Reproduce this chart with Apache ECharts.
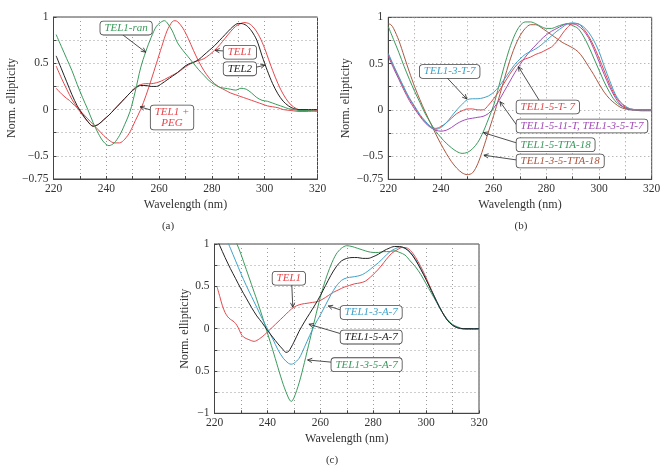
<!DOCTYPE html>
<html><head><meta charset="utf-8">
<script src="https://cdn.jsdelivr.net/npm/echarts@6/dist/echarts.min.js"></script>
<style>html,body{margin:0;padding:0;background:#fff}#c{width:664px;height:467px}</style>
</head><body><div id="c"></div>
<script>
// ---------- DATA (wavelength nm, normalized ellipticity) ----------
// Panel (a)
const aTEL1ran = [[221,0.81],[223,0.68],[225,0.55],[227,0.42],[229,0.27],[231,0.13],[233,0.0],[235,-0.14],[237,-0.26],[239,-0.35],[241,-0.39],[243,-0.36],[245,-0.28],[247,-0.16],[249,-0.02],[251,0.2],[253,0.45],[255,0.63],[257,0.78],[259,0.9],[261,0.95],[262,0.96],[263,0.94],[265,0.85],[267,0.72],[269,0.64],[271,0.57],[273,0.5],[275,0.43],[277,0.37],[279,0.31],[281,0.27],[283,0.24],[285,0.23],[287,0.22],[289,0.21],[291,0.23],[293,0.22],[295,0.18],[297,0.13],[299,0.1],[301,0.09],[303,0.07],[305,0.05],[307,0.03],[309,0.01],[311,0.0],[313,-0.01],[316,-0.01],[320,-0.02]];
const aTEL1PEG = [[221,0.23],[223,0.17],[225,0.12],[226,0.1],[227,0.07],[229,0.02],[231,-0.04],[233,-0.1],[235,-0.16],[237,-0.22],[239,-0.28],[241,-0.33],[243,-0.36],[245,-0.36],[247,-0.32],[249,-0.24],[251,-0.12],[253,0.0],[255,0.15],[257,0.32],[259,0.5],[261,0.68],[263,0.85],[265,0.95],[266,0.96],[267,0.95],[269,0.88],[271,0.77],[273,0.64],[275,0.52],[277,0.42],[279,0.34],[281,0.28],[283,0.24],[285,0.21],[287,0.18],[289,0.16],[291,0.14],[293,0.12],[295,0.1],[297,0.08],[299,0.06],[301,0.04],[303,0.03],[305,0.02],[307,0.0],[310,-0.01],[313,-0.02],[316,-0.02],[320,-0.01]];
const aTEL2 = [[221,0.58],[223,0.44],[225,0.3],[227,0.16],[229,0.04],[231,-0.05],[233,-0.13],[235,-0.18],[237,-0.16],[239,-0.11],[241,-0.06],[243,0.0],[245,0.06],[247,0.12],[249,0.18],[251,0.23],[253,0.26],[255,0.26],[257,0.25],[259,0.25],[261,0.28],[263,0.32],[265,0.36],[267,0.4],[269,0.45],[271,0.49],[273,0.51],[275,0.54],[277,0.59],[279,0.64],[281,0.69],[283,0.75],[285,0.81],[287,0.87],[289,0.92],[290,0.93],[291,0.93],[293,0.91],[295,0.85],[297,0.75],[299,0.58],[301,0.42],[303,0.28],[305,0.17],[307,0.09],[309,0.04],[311,0.01],[313,0.0],[316,0.0],[320,0.0]];
const aTEL1 = [[221,0.47],[223,0.34],[225,0.22],[227,0.11],[229,0.02],[231,-0.06],[233,-0.13],[235,-0.18],[237,-0.16],[239,-0.11],[241,-0.06],[243,0.0],[245,0.06],[247,0.12],[249,0.18],[251,0.24],[253,0.27],[255,0.28],[257,0.28],[259,0.29],[261,0.31],[263,0.34],[265,0.37],[267,0.4],[269,0.44],[271,0.48],[273,0.51],[275,0.53],[277,0.55],[279,0.59],[281,0.64],[283,0.7],[285,0.77],[287,0.84],[289,0.9],[291,0.93],[292,0.94],[294,0.93],[296,0.88],[298,0.79],[300,0.66],[302,0.5],[304,0.35],[306,0.22],[308,0.12],[310,0.05],[312,0.01],[314,-0.01],[317,-0.01],[320,0.0]];
// Panel (b)
const b3T7 = [[220,0.61],[222,0.48],[224,0.36],[226,0.24],[228,0.13],[230,0.04],[232,-0.05],[234,-0.12],[236,-0.18],[238,-0.21],[240,-0.19],[242,-0.14],[244,-0.07],[246,0.0],[248,0.06],[250,0.11],[252,0.12],[254,0.12],[256,0.13],[258,0.15],[260,0.19],[262,0.25],[264,0.33],[266,0.41],[268,0.49],[270,0.55],[272,0.6],[274,0.63],[276,0.66],[278,0.7],[280,0.75],[282,0.8],[284,0.85],[286,0.89],[288,0.93],[290,0.94],[292,0.93],[294,0.9],[296,0.84],[298,0.75],[300,0.63],[302,0.47],[304,0.32],[306,0.18],[308,0.09],[310,0.04],[312,0.01],[315,0.0],[320,0.0]];
const b5T7 = [[220,0.6],[222,0.47],[224,0.35],[226,0.23],[228,0.12],[230,0.03],[232,-0.06],[234,-0.13],[236,-0.18],[238,-0.2],[240,-0.18],[242,-0.14],[244,-0.09],[246,-0.04],[248,-0.01],[250,0.01],[252,0.01],[254,0.0],[256,0.0],[258,0.05],[260,0.12],[262,0.2],[264,0.29],[266,0.38],[268,0.46],[270,0.52],[272,0.55],[274,0.57],[276,0.6],[278,0.62],[280,0.65],[282,0.68],[284,0.74],[286,0.82],[288,0.89],[290,0.93],[292,0.93],[294,0.88],[296,0.8],[298,0.69],[300,0.56],[302,0.42],[304,0.28],[306,0.16],[308,0.08],[310,0.03],[312,0.01],[315,0.0],[320,0.0]];
const b511T = [[220,0.58],[222,0.45],[224,0.33],[226,0.21],[228,0.1],[230,0.01],[232,-0.07],[234,-0.14],[236,-0.19],[238,-0.22],[240,-0.23],[242,-0.22],[244,-0.19],[246,-0.15],[248,-0.12],[250,-0.1],[252,-0.09],[254,-0.08],[256,-0.07],[258,-0.04],[260,0.02],[262,0.1],[264,0.2],[266,0.3],[268,0.4],[270,0.49],[272,0.57],[274,0.64],[276,0.7],[278,0.76],[280,0.81],[282,0.85],[284,0.88],[286,0.91],[288,0.93],[290,0.93],[292,0.91],[294,0.86],[296,0.78],[298,0.66],[300,0.52],[302,0.38],[304,0.25],[306,0.14],[308,0.06],[310,0.02],[312,0.0],[315,0.0],[320,0.0]];
const b5TTA18 = [[220,0.9],[222,0.76],[224,0.62],[226,0.47],[228,0.33],[230,0.2],[232,0.08],[234,-0.04],[236,-0.14],[238,-0.23],[240,-0.3],[242,-0.36],[244,-0.41],[246,-0.45],[248,-0.47],[250,-0.46],[252,-0.42],[254,-0.35],[256,-0.24],[258,-0.1],[260,0.05],[262,0.26],[264,0.47],[266,0.66],[268,0.81],[270,0.91],[272,0.95],[274,0.95],[276,0.93],[278,0.9],[280,0.88],[282,0.88],[284,0.9],[286,0.92],[288,0.93],[290,0.91],[292,0.88],[294,0.8],[296,0.69],[298,0.56],[300,0.43],[302,0.3],[304,0.19],[306,0.1],[308,0.05],[310,0.02],[313,0.0],[320,0.0]];
const b35TTA18 = [[220,0.93],[221,0.92],[222,0.88],[224,0.75],[226,0.58],[228,0.41],[230,0.25],[232,0.11],[234,-0.02],[236,-0.14],[238,-0.26],[240,-0.37],[242,-0.47],[244,-0.56],[246,-0.63],[248,-0.68],[250,-0.7],[252,-0.68],[254,-0.58],[256,-0.42],[258,-0.24],[260,-0.06],[262,0.13],[264,0.33],[266,0.52],[268,0.68],[270,0.8],[272,0.88],[274,0.92],[276,0.92],[278,0.89],[280,0.85],[282,0.81],[284,0.77],[286,0.73],[288,0.7],[290,0.67],[292,0.63],[294,0.56],[296,0.47],[298,0.38],[300,0.28],[302,0.19],[304,0.12],[306,0.07],[308,0.03],[310,0.01],[313,0.0],[316,-0.01],[320,-0.01]];
// Panel (c)
const cTEL1 = [[221,0.49],[222,0.38],[223,0.27],[224,0.19],[225,0.14],[226,0.11],[227,0.09],[228,0.06],[229,0.01],[230,-0.06],[231,-0.1],[233,-0.13],[235,-0.15],[237,-0.12],[239,-0.07],[241,-0.01],[243,0.05],[245,0.11],[247,0.17],[249,0.23],[251,0.27],[253,0.29],[255,0.3],[257,0.31],[259,0.32],[261,0.35],[263,0.39],[265,0.43],[267,0.46],[269,0.49],[271,0.51],[273,0.53],[275,0.54],[277,0.56],[279,0.61],[281,0.67],[283,0.74],[285,0.82],[287,0.89],[289,0.93],[291,0.96],[293,0.95],[295,0.89],[297,0.79],[299,0.67],[301,0.53],[303,0.39],[305,0.26],[307,0.15],[309,0.07],[311,0.02],[313,0.0],[316,-0.01],[320,-0.01]];
const c3A7 = [[224,1.1],[226,0.95],[228,0.8],[230,0.65],[232,0.51],[234,0.38],[236,0.25],[238,0.12],[240,0.0],[242,-0.12],[244,-0.25],[246,-0.35],[248,-0.41],[249,-0.42],[250,-0.41],[252,-0.35],[254,-0.22],[256,-0.08],[258,0.05],[260,0.16],[262,0.28],[264,0.4],[266,0.5],[268,0.57],[270,0.6],[272,0.61],[274,0.62],[276,0.64],[278,0.68],[280,0.73],[282,0.78],[284,0.84],[286,0.9],[288,0.94],[290,0.96],[292,0.95],[294,0.9],[296,0.82],[298,0.71],[300,0.58],[302,0.45],[304,0.32],[306,0.2],[308,0.1],[310,0.04],[312,0.01],[314,0.0],[320,0.0]];
const c5A7 = [[221,1.05],[222,0.98],[224,0.84],[226,0.71],[228,0.59],[230,0.47],[232,0.36],[234,0.25],[236,0.15],[238,0.07],[240,-0.02],[242,-0.1],[244,-0.18],[246,-0.25],[247,-0.28],[248,-0.27],[250,-0.16],[252,-0.03],[254,0.08],[256,0.18],[258,0.28],[260,0.39],[262,0.51],[264,0.63],[266,0.73],[268,0.8],[270,0.83],[272,0.84],[274,0.84],[276,0.83],[278,0.83],[280,0.85],[282,0.88],[284,0.92],[286,0.95],[288,0.97],[290,0.97],[292,0.95],[294,0.9],[296,0.81],[298,0.7],[300,0.58],[302,0.45],[304,0.32],[306,0.2],[308,0.1],[310,0.04],[312,0.01],[314,0.0],[317,0.0],[320,0.0]];
const c35A7 = [[227,1.1],[228.5,1.0],[230,0.88],[232,0.7],[234,0.52],[236,0.34],[238,0.15],[240,-0.05],[242,-0.25],[244,-0.46],[246,-0.66],[248,-0.82],[249,-0.86],[250,-0.82],[252,-0.64],[254,-0.4],[256,-0.14],[258,0.12],[260,0.37],[262,0.58],[264,0.75],[266,0.88],[268,0.95],[270,0.98],[272,0.97],[274,0.95],[276,0.93],[278,0.91],[280,0.9],[282,0.9],[284,0.91],[286,0.91],[288,0.92],[290,0.9],[292,0.87],[294,0.8],[296,0.73],[298,0.64],[300,0.53],[302,0.42],[304,0.31],[306,0.2],[308,0.11],[310,0.05],[312,0.02],[314,0.0],[320,0.0]];

// tick labels
const xTicks = [220,240,260,280,300,320];
const yTicksAB = {"1":"1","0.5":"0.5","0":"0","-0.5":"\u22120.5","-0.75":"\u22120.75"};
const yTicksC = {"1":"1","0.5":"0.5","0":"0","-0.5":"0.5","-1":"\u22121"};

// ---------- STYLE ----------
const C = {green:'#3a9a5c', red:'#e4474c', black:'#222222', cyan:'#3fa2c8', purple:'#a24bb6', brown:'#ad5640'};
const FONT = "'Liberation Serif','DejaVu Serif',serif";

const grids = [
  {left:53.5, top:17, width:264, height:162},
  {left:388.3, top:17.3, width:263.4, height:162},
  {left:214.5, top:244, width:264.5, height:169.3}
];
const yRanges = [[-0.75,1],[-0.75,1],[-1,1]];
const yLabelMaps = [yTicksAB, yTicksAB, yTicksC];
const yNameGaps = [36, 36, 22];

const axisCommon = {
  axisLine:{show:true, onZero:false, lineStyle:{color:'#444', width:1}},
  axisTick:{show:true, inside:true, length:3, lineStyle:{color:'#444'}},
  splitLine:{show:true, lineStyle:{color:'#9a9a9a', type:[1,3], width:1}},
  nameTextStyle:{fontFamily:FONT, fontSize:12, color:'#333'}
};

const xAxis = grids.map((g,i)=>Object.assign({}, axisCommon, {
  type:'value', gridIndex:i, min:220, max:320, interval:10,
  name:'Wavelength (nm)', nameLocation:'middle', nameGap:20,
  axisLabel:{fontFamily:FONT, fontSize:11.5, color:'#333', margin:4,
    formatter:v=> xTicks.indexOf(v)>=0 ? String(v) : ''}
}));
const yAxis = grids.map((g,i)=>Object.assign({}, axisCommon, {
  type:'value', gridIndex:i, min:yRanges[i][0], max:yRanges[i][1], interval:0.25,
  name:'Norm. ellipticity', nameLocation:'middle', nameGap:yNameGaps[i],
  axisLabel:{fontFamily:FONT, fontSize:11.5, color:'#333', margin:5,
    formatter:v=>{const k=String(Math.round(v*100)/100); return yLabelMaps[i][k]!==undefined?yLabelMaps[i][k]:'';}}
}));

function line(data, color, gi){
  return {type:'line', xAxisIndex:gi, yAxisIndex:gi, data:data, showSymbol:false, symbol:'none',
    smooth:0.3, clip:true, lineStyle:{color:color, width:1}, itemStyle:{color:color}, silent:true, animation:false, z:3};
}

const series = [
  line(aTEL1PEG, C.red, 0), line(aTEL1, C.red, 0), line(aTEL2, C.black, 0), line(aTEL1ran, C.green, 0),
  line(b35TTA18, C.brown, 1), line(b5TTA18, C.green, 1), line(b511T, C.purple, 1), line(b5T7, C.red, 1), line(b3T7, C.cyan, 1),
  line(cTEL1, C.red, 2), line(c35A7, C.green, 2), line(c3A7, C.cyan, 2), line(c5A7, C.black, 2)
];

// annotations in data coordinates: box anchor, arrow start, arrow tip
const notes = [
  {g:0, text:'TEL1-ran', color:C.green, box:[247.5,0.88], align:'center', from:[245.2,0.83], to:[254.9,0.62]},
  {g:0, text:'TEL1', color:C.red, box:[290.6,0.62], align:'center', from:[285.7,0.63], to:[281.2,0.64]},
  {g:0, text:'TEL2', color:C.black, box:[290.6,0.44], align:'center', from:[295.6,0.45], to:[300.1,0.48]},
  {g:0, text:'TEL1 +\nPEG', color:C.red, box:[264.9,-0.085], align:'center', from:[259.2,-0.026], to:[252.8,0.03]},
  {g:1, text:'TEL1-3-T-7', color:C.cyan, box:[243.3,0.415], align:'center', from:[242.2,0.35], to:[249.8,0.118]},
  {g:1, text:'TEL1-5-T- 7', color:C.red, box:[268.7,0.031], align:'left', from:[277.6,0.089], to:[269.4,0.466]},
  {g:1, text:'TEL1-5-11-T, TEL1-3-5-T-7', color:C.purple, box:[268.7,-0.174], align:'left', from:[268.7,-0.163], to:[262.4,0.089]},
  {g:1, text:'TEL1-5-TTA-18', color:C.green, box:[268.7,-0.376], align:'left', from:[268.7,-0.357], to:[256.1,-0.246]},
  {g:1, text:'TEL1-3-5-TTA-18', color:C.brown, box:[268.7,-0.552], align:'left', from:[268.7,-0.541], to:[256.3,-0.49]},
  {g:2, text:'TEL1', color:C.red, box:[248.1,0.595], align:'center', from:[249.2,0.536], to:[249.6,0.253]},
  {g:2, text:'TEL1-3-A-7', color:C.cyan, box:[290.8,0.19], align:'right', from:[270,0.197], to:[263,0.268]},
  {g:2, text:'TEL1-5-A-7', color:C.black, box:[290.8,-0.1], align:'right', from:[269.3,-0.074], to:[255.7,0.052]},
  {g:2, text:'TEL1-3-5-A-7', color:C.green, box:[290.8,-0.425], align:'right', from:[267.4,-0.405], to:[255.2,-0.37]}
];
const captions = [{text:'(a)', x:168, y:226}, {text:'(b)', x:521, y:226}, {text:'(c)', x:332, y:460}];

const chart = echarts.init(document.getElementById('c'), null, {renderer:'canvas'});
chart.setOption({
  animation:false,
  backgroundColor:'#fff',
  grid: grids.map(g=>Object.assign({show:true, borderColor:'#444', borderWidth:1, backgroundColor:'transparent'}, g)),
  xAxis: xAxis, yAxis: yAxis, series: series
});

const gfx = [];
notes.forEach(n=>{
  const f = chart.convertToPixel({xAxisIndex:n.g, yAxisIndex:n.g}, n.from);
  const t = chart.convertToPixel({xAxisIndex:n.g, yAxisIndex:n.g}, n.to);
  const b = chart.convertToPixel({xAxisIndex:n.g, yAxisIndex:n.g}, n.box);
  const ang = Math.atan2(t[1]-f[1], t[0]-f[0]);
  const L = 5, sp = 0.45;
  const p1 = [t[0]-L*Math.cos(ang-sp), t[1]-L*Math.sin(ang-sp)];
  const p2 = [t[0]-L*Math.cos(ang+sp), t[1]-L*Math.sin(ang+sp)];
  gfx.push({type:'line', z:20, silent:true, shape:{x1:f[0],y1:f[1],x2:t[0],y2:t[1]}, style:{stroke:'#222', lineWidth:0.8}});
  gfx.push({type:'polyline', z:20, silent:true, shape:{points:[p1,t,p2]}, style:{stroke:'#222', lineWidth:0.8, fill:null}});
  gfx.push({type:'text', z:30, silent:true, x:b[0], y:b[1], style:{
    text:n.text, fill:n.color, fontFamily:FONT, fontStyle:'italic', fontSize:11, lineHeight:11,
    align:n.align, verticalAlign:'middle', backgroundColor:'#fff', borderColor:'#444', borderWidth:0.8,
    borderRadius:3, padding:[1,4,1,4]}});
});
captions.forEach(c=>{
  gfx.push({type:'text', x:c.x, y:c.y, silent:true, style:{text:c.text, fill:'#333', fontFamily:FONT, fontSize:11, align:'center', verticalAlign:'middle'}});
});
chart.setOption({graphic: gfx});
</script>
</body></html>
